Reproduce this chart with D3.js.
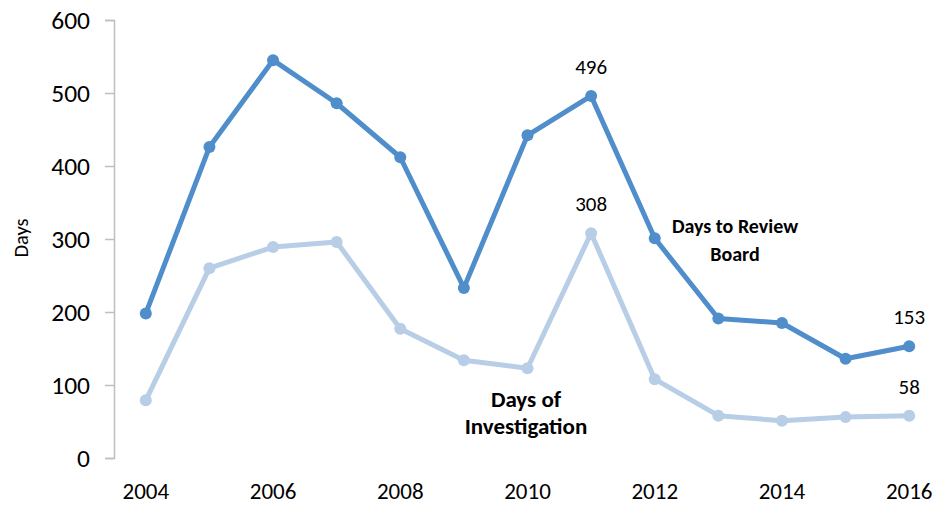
<!DOCTYPE html>
<html>
<head>
<meta charset="utf-8">
<script src="https://cdn.jsdelivr.net/npm/d3@7"></script>
<style>
  html, body { margin: 0; padding: 0; background: #fff; }
  svg { display: block; font-family: Carlito, Lato, "Open Sans", sans-serif; }
</style>
</head>
<body>
<svg id="chart" width="947" height="506"></svg>
<script>
// Years on the horizontal axis
const years = [2004, 2005, 2006, 2007, 2008, 2009, 2010, 2011, 2012, 2013, 2014, 2015, 2016];
// Days until the case reached the review board
const reviewBoardDays = [198, 426, 545, 486, 412, 233, 442, 496, 301, 191, 185, 136, 153];
// Days spent on the investigation
const investigationDays = [79, 260, 289, 296, 177, 134, 123, 308, 108, 58, 51, 56, 58];
// Labelled tick years and y-axis ticks
const yearTicks = [2004, 2006, 2008, 2010, 2012, 2014, 2016];
const dayTicks = [0, 100, 200, 300, 400, 500, 600];

const svg = d3.select("#chart");
const plotLeft = 114, plotRight = 941, plotTop = 20, plotBottom = 458;
const fontStack = "Carlito, Lato, sans-serif";

const x = d3.scaleBand().domain(years).range([plotLeft, plotRight]);
const cx = d => x(d) + x.bandwidth() / 2;
const y = d3.scaleLinear().domain([0, 600]).range([plotBottom, plotTop]);

// Y axis
const yAxis = svg.append("g")
  .attr("transform", `translate(${plotLeft},0)`)
  .call(d3.axisLeft(y).tickValues(dayTicks).tickSize(9).tickPadding(15));
yAxis.select(".domain").attr("stroke", "#bfbfbf").attr("stroke-width", 1.5);
yAxis.selectAll(".tick line").attr("stroke", "#bfbfbf").attr("stroke-width", 1.5);
yAxis.selectAll(".tick text").attr("font-size", 25.5).attr("fill", "#000")
  .attr("font-family", fontStack);

// X axis labels (no axis line)
const xAxis = svg.append("g")
  .attr("transform", `translate(0,${plotBottom})`)
  .call(d3.axisBottom(x).tickValues(yearTicks).tickSize(0).tickPadding(25));
xAxis.select(".domain").remove();
xAxis.selectAll(".tick text").attr("font-size", 23).attr("fill", "#000")
  .attr("font-family", fontStack);

// Y axis title
svg.append("text")
  .attr("transform", `translate(28,238) rotate(-90)`)
  .attr("text-anchor", "middle")
  .attr("font-size", 20.5)
  .attr("fill", "#000")
  .text("Days");

const line = d3.line().x((d, i) => cx(years[i])).y(d => y(d));

function drawSeries(values, color) {
  svg.append("path")
    .datum(values)
    .attr("fill", "none")
    .attr("stroke", color)
    .attr("stroke-width", 5)
    .attr("stroke-linejoin", "round")
    .attr("d", line);
  svg.append("g").selectAll("circle")
    .data(values)
    .join("circle")
    .attr("cx", (d, i) => cx(years[i]))
    .attr("cy", d => y(d))
    .attr("r", 6)
    .attr("fill", color);
}

drawSeries(investigationDays, "#b8cde6");
drawSeries(reviewBoardDays, "#4f8eca");

// Value labels on selected points
const valueLabels = [
  { series: reviewBoardDays, year: 2011 },
  { series: investigationDays, year: 2011 },
  { series: reviewBoardDays, year: 2016 },
  { series: investigationDays, year: 2016 }
];
svg.append("g").selectAll("text")
  .data(valueLabels)
  .join("text")
  .attr("x", d => cx(d.year))
  .attr("y", d => y(d.series[years.indexOf(d.year)]) - 22)
  .attr("text-anchor", "middle")
  .attr("font-size", 21)
  .attr("fill", "#000")
  .text(d => d.series[years.indexOf(d.year)]);

// Series names
function seriesName(lines, xc, y0, size, gap) {
  const t = svg.append("text")
    .attr("text-anchor", "middle")
    .attr("font-size", size)
    .attr("font-weight", "bold")
    .attr("fill", "#000");
  lines.forEach((s, i) => {
    t.append("tspan").attr("x", xc).attr("y", y0 + i * gap).text(s);
  });
}
seriesName(["Days to Review", "Board"], 735, 233, 20, 28);
seriesName(["Days of", "Investigation"], 526, 407, 23, 27);
</script>
</body>
</html>
